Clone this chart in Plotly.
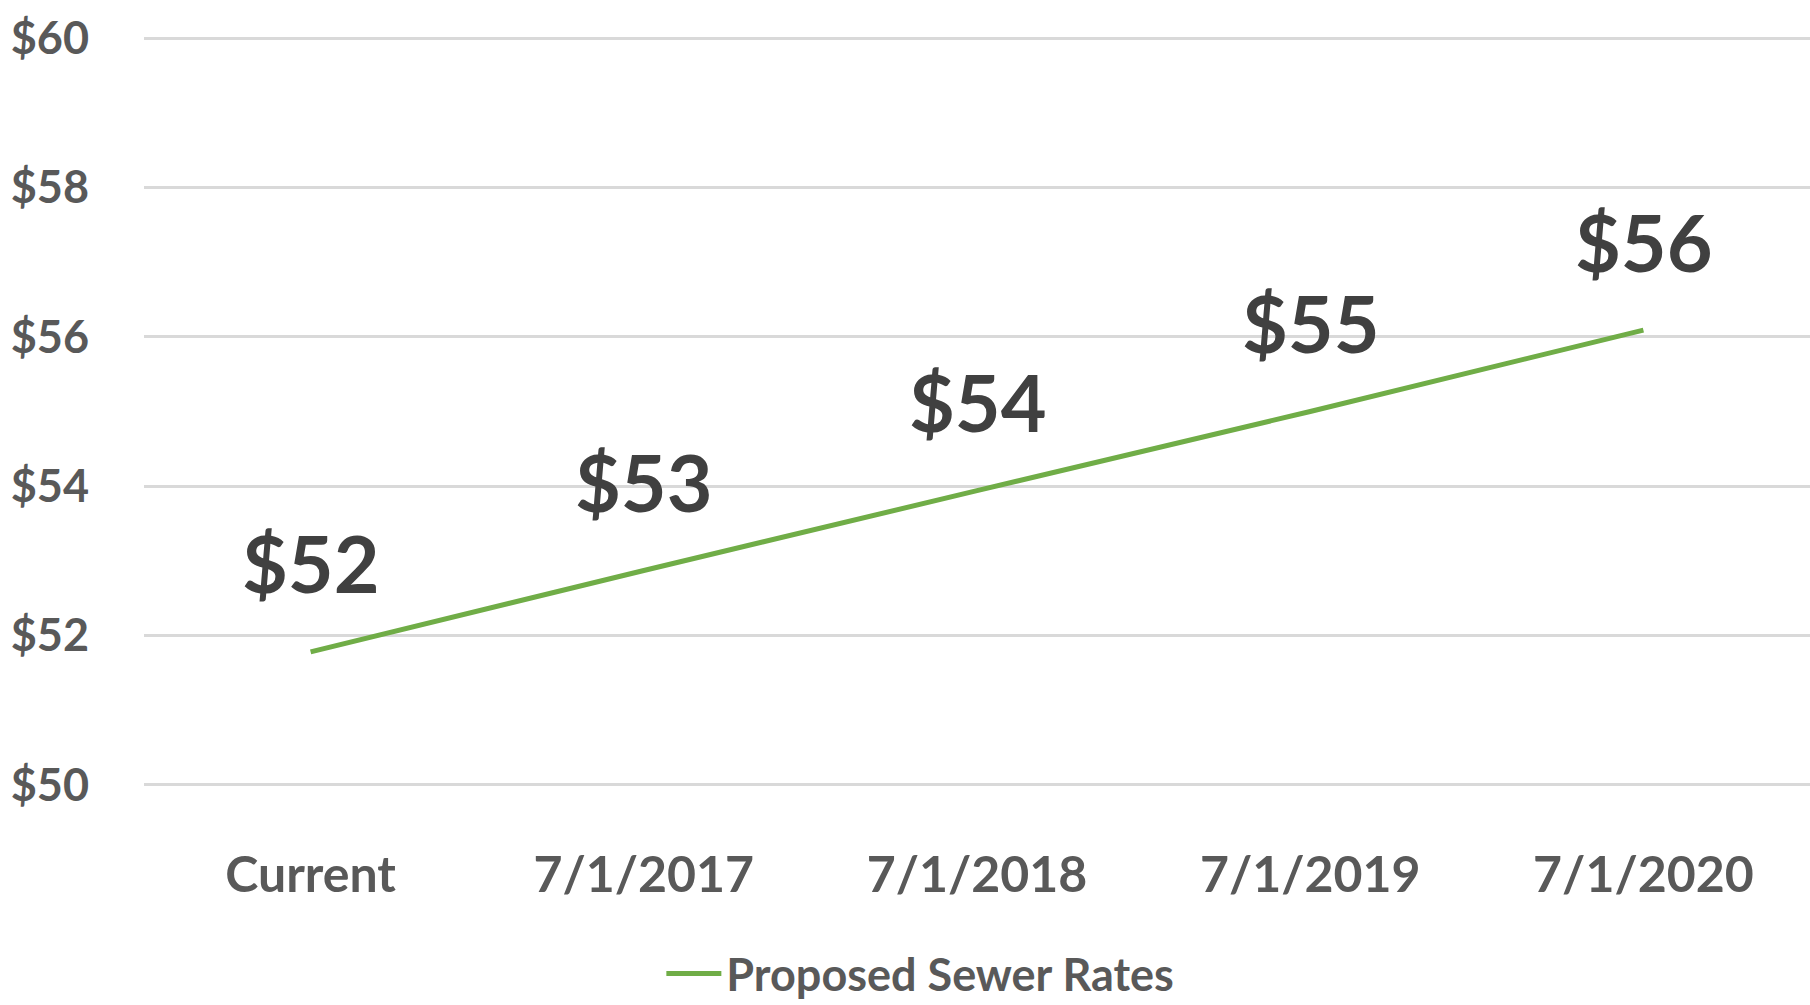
import plotly.graph_objects as go

categories = ["Current", "7/1/2017", "7/1/2018", "7/1/2019", "7/1/2020"]
rates = [51.78, 52.87, 53.94, 55.00, 56.09]
rate_labels = ["$52", "$53", "$54", "$55", "$56"]
y_ticks = [50, 52, 54, 56, 58, 60]
y_tick_text = ["$50", "$52", "$54", "$56", "$58", "$60"]
series_name = "Proposed Sewer Rates"

FONT = "Lato, Open Sans, sans-serif"
GREEN = "#70AD47"

fig = go.Figure()
fig.add_trace(go.Scatter(
    x=categories, y=rates, mode="lines", name=series_name,
    line=dict(color=GREEN, width=5),
))

for c, v, t in zip(categories, rates, rate_labels):
    fig.add_annotation(
        x=c, y=v, text=t, showarrow=False,
        yshift=89, yanchor="middle", xanchor="center",
        font=dict(family=FONT, size=79, color="#404040", weight="bold"),
    )

fig.update_layout(
    width=1810, height=1005,
    margin=dict(l=144, r=0, t=36, b=218, autoexpand=False),
    paper_bgcolor="white", plot_bgcolor="white",
    showlegend=True,
    legend=dict(
        orientation="h", x=0.466, xanchor="center",
        yref="container", y=0.031, yanchor="middle",
        font=dict(family=FONT, size=45, color="#595959", weight="bold"),
        itemwidth=55, bgcolor="rgba(0,0,0,0)",
    ),
    font=dict(family=FONT, color="#595959"),
)
fig.update_xaxes(
    type="category", range=[-0.5, 4.5], showgrid=False, zeroline=False,
    showline=False, ticks="", automargin=False,
    tickfont=dict(family=FONT, size=50, color="#595959", weight="bold"),
    ticklabelstandoff=54,
)
fig.update_yaxes(
    range=[49.97, 60.03], tickvals=y_ticks, ticktext=y_tick_text,
    showgrid=True, gridcolor="#D9D9D9", gridwidth=2.5, zeroline=False,
    showline=False, ticks="", automargin=False,
    tickfont=dict(family=FONT, size=45, color="#595959", weight="bold"),
    ticklabelstandoff=54,
)

fig.write_html(
    "out.html",
    config={"displayModeBar": False},
    post_script="document.body.style.margin='0';document.body.style.overflow='hidden';",
)
